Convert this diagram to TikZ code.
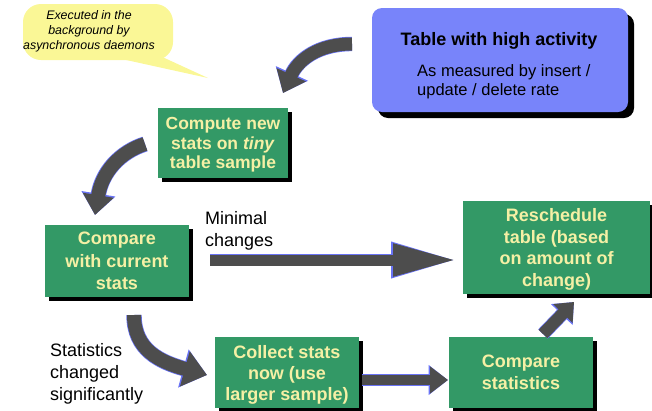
\documentclass[tikz,border=0pt]{standalone}
\usepackage{fontspec}
\setmainfont{Liberation Sans}
\usetikzlibrary{arrows.meta,shadows}
\definecolor{gboxc}{RGB}{51,153,102}
\definecolor{gtext}{RGB}{245,240,165}
\definecolor{bboxc}{RGB}{120,132,250}
\definecolor{agray}{RGB}{77,77,77}
\definecolor{ablue}{RGB}{105,115,245}
\definecolor{cyell}{RGB}{250,247,150}
\begin{document}
\begin{tikzpicture}[x=1pt,y=-1pt,
  gbox/.style={fill=gboxc, text=gtext, font=\bfseries\fontsize{18}{21}\selectfont,
    align=center, inner sep=0pt,
    general shadow={fill=black, shadow xshift=4pt, shadow yshift=-4pt}},
  bbox/.style={fill=bboxc, rounded corners=10pt, inner sep=0pt,
    general shadow={fill=black, rounded corners=10pt, shadow xshift=6pt, shadow yshift=-6pt}},
  plain/.style={font=\fontsize{18}{22}\selectfont, align=left, inner sep=0pt, anchor=west},
  fatU/.style n args={3}{line width=#1, draw=ablue, -{Triangle[length=#2,width=#3]}},
  fatO/.style n args={3}{line width=#1, draw=agray, -{Triangle[length=#2,width=#3]}}]
\useasboundingbox (0,0) rectangle (652,410);

% callout
\fill[cyell] (108,56) -- (158,55) -- (208,78) -- cycle;
\node[fill=cyell, rounded corners=18pt, minimum width=150pt, minimum height=56pt, inner sep=0pt] (note) at (98,32) {};
\node[font=\itshape\fontsize{12.4}{15}\selectfont, align=center, inner sep=0pt] (notetext) at (89,31)
  {Executed in the\\background by\\asynchronous daemons};

% blue box
\node[bbox, minimum width=256pt, minimum height=104pt] (busy) at (500,60) {};
\node[font=\bfseries\fontsize{18}{21}\selectfont, inner sep=0pt] (title) at (499,41) {Table with high activity};
\node[font=\fontsize{16.5}{19}\selectfont, align=left, inner sep=0pt, anchor=west] (sub) at (417,82)
  {As measured by insert /\\update / delete rate};

% green boxes
\node[gbox, minimum width=130pt, minimum height=70pt, text depth=-8.3pt, font=\bfseries\fontsize{17.5}{19.5}\selectfont] (compute) at (223,143)
  {Compute new\\stats on \textit{tiny}\\table sample};
\node[gbox, minimum width=144pt, minimum height=72pt, text depth=-5.8pt, font=\bfseries\fontsize{18}{22.5}\selectfont] (compare) at (117,261)
  {Compare\\with current\\stats};
\node[gbox, minimum width=187pt, minimum height=93pt, text depth=-3.2pt, font=\bfseries\fontsize{18}{21.5}\selectfont] (resched) at (556.5,247.5)
  {Reschedule\\table (based\\on amount of\\change)};
\node[gbox, minimum width=144pt, minimum height=71pt, text depth=-8.2pt] (collect) at (287,372.5)
  {Collect stats\\now (use\\larger sample)};
\node[gbox, minimum width=144pt, minimum height=71pt, text depth=-5.8pt, font=\bfseries\fontsize{18}{22}\selectfont] (cstat) at (521,372.5)
  {Compare\\statistics};

% labels
\node[plain] (minimal) at (205,231) {Minimal\\changes};
\node[plain] (signif) at (50,374) {Statistics\\changed\\significantly};

% arrow coordinates
\coordinate (a1s) at (352,44);  \coordinate (a1e) at (283,93);
\coordinate (a2s) at (145,144); \coordinate (a2e) at (95,215);
\coordinate (a3s) at (134,315); \coordinate (a3e) at (207,375);
\coordinate (a4s) at (210,260); \coordinate (a4e) at (457,260);
\coordinate (a5s) at (362,380); \coordinate (a5e) at (448,380);
\coordinate (a6s) at (543,334); \coordinate (a6e) at (574,302);

% arrows (outline pass, then fill pass)
\draw[fatU={14.4pt}{21.5pt}{34pt}] (a1s) .. controls (318,44) and (298,60) .. (a1e);
\draw[fatO={13pt}{20pt}{31pt}] (a1s) .. controls (318,44) and (298,60) .. (a1e);

\draw[fatU={15.4pt}{21.5pt}{33pt}] (a2s) .. controls (120,152) and (102,172) .. (a2e);
\draw[fatO={14pt}{20pt}{30pt}] (a2s) .. controls (120,152) and (102,172) .. (a2e);

\draw[fatU={15.4pt}{24.5pt}{38pt}] (a3s) .. controls (134,350) and (160,362) .. (a3e);
\draw[fatO={14pt}{23pt}{35pt}] (a3s) .. controls (134,350) and (160,362) .. (a3e);

\draw[fatU={12.4pt}{66pt}{33pt}] (a4s) -- (a4e);
\draw[fatO={11pt}{64pt}{30pt}] (a4s) -- (a4e);

\draw[fatU={11.4pt}{19.5pt}{29pt}] (a5s) -- (a5e);
\draw[fatO={10pt}{18pt}{26pt}] (a5s) -- (a5e);

\draw[fatU={13.4pt}{17.5pt}{29pt}] (a6s) -- (a6e);
\draw[fatO={12pt}{16pt}{26pt}] (a6s) -- (a6e);
\end{tikzpicture}
\end{document}
